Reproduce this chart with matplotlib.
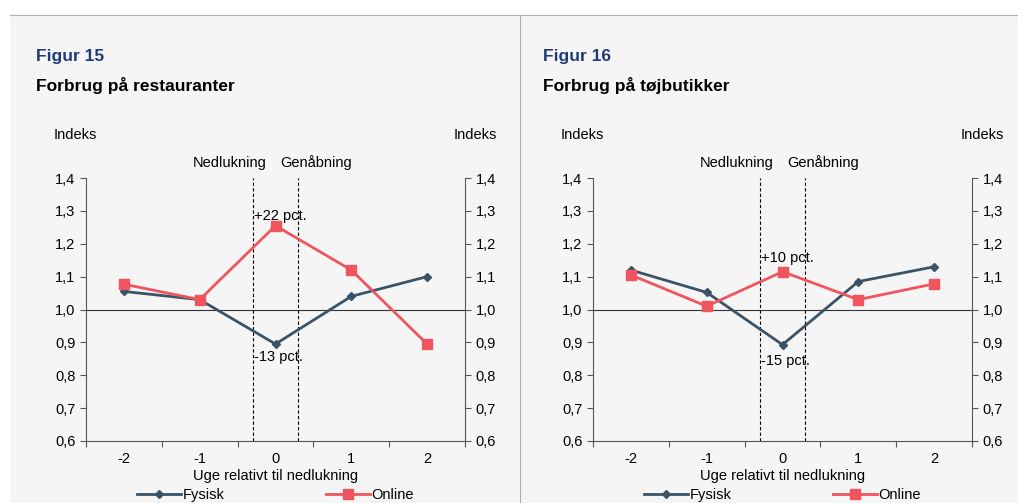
import matplotlib.pyplot as plt
import matplotlib.patches as mpatches
import numpy as np

plt.rcParams['font.family'] = ['Liberation Sans', 'DejaVu Sans']

weeks = [-2, -1, 0, 1, 2]
rest_fysisk = [1.055, 1.03, 0.895, 1.04, 1.10]
rest_online = [1.077, 1.03, 1.255, 1.12, 0.895]
toj_fysisk = [1.12, 1.052, 0.893, 1.085, 1.13]
toj_online = [1.105, 1.01, 1.115, 1.03, 1.078]

panels = [
    ("Figur 15", "Forbrug på restauranter", rest_fysisk, rest_online, "+22 pct.", 1.284, "-13 pct.", 0.855),
    ("Figur 16", "Forbrug på tøjbutikker", toj_fysisk, toj_online, "+10 pct.", 1.157, "-15 pct.", 0.842),
]

W, H = 1018, 503
fig = plt.figure(figsize=(W / 100, H / 100), dpi=100)
fig.patch.set_facecolor('white')
bg = '#f5f5f5'
navy = '#3b5366'
red = '#f0545f'

# panel backgrounds and separators
fig.add_artist(mpatches.Rectangle((10 / W, 0), 1 - 10 / W, 1 - 15 / H, transform=fig.transFigure,
                                  facecolor=bg, edgecolor='none', zorder=-10))
fig.add_artist(plt.Line2D([10 / W, 1], [1 - 15 / H] * 2, transform=fig.transFigure, color='#b0b0b0', lw=0.8))
fig.add_artist(plt.Line2D([520 / W] * 2, [0, 1 - 15 / H], transform=fig.transFigure, color='#b0b0b0', lw=0.8))

axes_x = [86, 593]
for (fig_no, title, fys, onl, up_txt, up_y, dn_txt, dn_y), x0 in zip(panels, axes_x):
    ax = fig.add_axes([x0 / W, 1 - 441 / H, 379 / W, (441 - 178) / H])
    ax.set_facecolor(bg)
    ax.plot(weeks, fys, color=navy, lw=2, marker='D', ms=4.5, label='Fysisk', zorder=3)
    ax.plot(weeks, onl, color=red, lw=2, marker='s', ms=7, label='Online', zorder=4)
    ax.axhline(1.0, color='#333333', lw=0.8, zorder=2)
    for xv in (-0.3, 0.3):
        ax.axvline(xv, color='black', lw=0.8, ls=(0, (3, 2)), zorder=1)
    ax.set_xlim(-2.5, 2.5)
    ax.set_ylim(0.6, 1.4)
    yt = np.arange(0.6, 1.41, 0.1)
    ax.set_yticks(yt)
    ax.set_yticklabels([f"{v:.1f}".replace('.', ',') for v in yt])
    ax.tick_params(axis='y', direction='out', length=4, labelsize=10.5,
                   left=True, right=True, labelleft=True, labelright=True, color='#555555')
    ax.set_xticks(np.arange(-2.5, 2.6, 1.0))
    ax.set_xticklabels([])
    ax.set_xticks(weeks, minor=True)
    ax.set_xticklabels([str(w) for w in weeks], minor=True)
    ax.tick_params(axis='x', which='major', direction='out', length=4, color='#555555')
    ax.tick_params(axis='x', which='minor', length=0, labelsize=10.5, pad=8)
    ax.spines['top'].set_visible(False)
    for s in ('left', 'right', 'bottom'):
        ax.spines[s].set_color('#555555')
    ax.set_xlabel('Uge relativt til nedlukning', fontsize=10.5, labelpad=2)
    ax.text(-0.29, up_y, up_txt, fontsize=10.5, va='center', ha='left')
    ax.text(-0.29, dn_y, dn_txt, fontsize=10.5, va='center', ha='left')
    ax.text(-0.6, 1.425, 'Nedlukning', fontsize=10.5, ha='center', va='bottom')
    ax.text(0.53, 1.425, 'Genåbning', fontsize=10.5, ha='center', va='bottom')
    ax.text(-0.085, 1.51, 'Indeks', transform=ax.get_yaxis_transform(), fontsize=10.5, ha='left', va='bottom')
    ax.text(1.085, 1.51, 'Indeks', transform=ax.get_yaxis_transform(), fontsize=10.5, ha='right', va='bottom')
    ax.legend(loc='upper center', bbox_to_anchor=(0.5, -0.15), ncol=2, frameon=False,
              fontsize=10.5, handlelength=3, handletextpad=0.1, columnspacing=7, borderpad=0)
    fx = x0 - 50
    fig.text(fx / W, 1 - 57 / H, fig_no, color='#1f3a7a', fontsize=12.5, fontweight='bold', va='center')
    fig.text(fx / W, 1 - 86 / H, title, color='black', fontsize=12.5, fontweight='bold', va='center')

fig.savefig('out.png', dpi=100, facecolor=fig.get_facecolor())
